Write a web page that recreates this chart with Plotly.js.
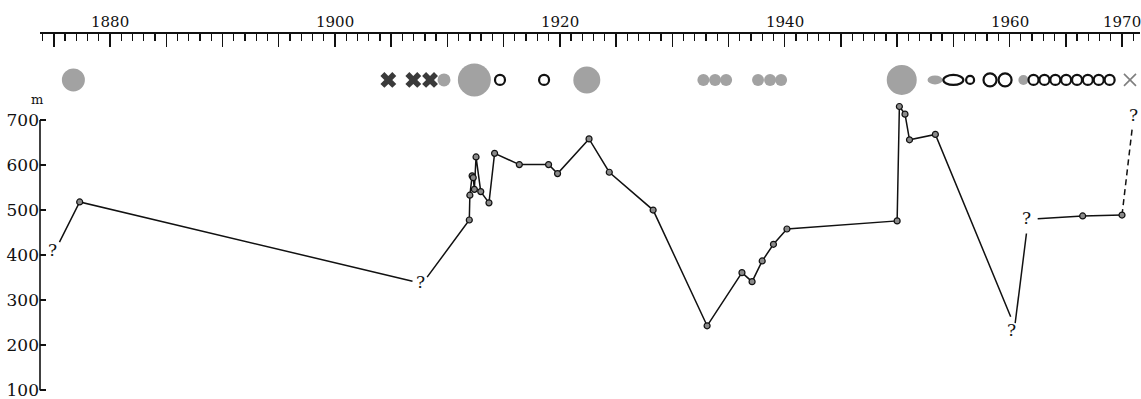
<!DOCTYPE html>
<html>
<head>
<meta charset="utf-8">
<script src="https://cdn.plot.ly/plotly-3.0.1.min.js"></script>
<style>html,body{margin:0;padding:0;background:#fff;}#chart{width:1141px;height:399px;}</style>
</head>
<body>
<div id="chart"></div>
<script>
// ---- data (years, elevation in m) ----
const segAYears = [1875.5, 1877.3, 1906.9];
const segAVals  = [429, 518, 342];
const segBYears = [1908.2, 1911.95, 1912.0, 1912.2, 1912.3, 1912.4, 1912.55, 1912.97, 1913.7, 1914.2, 1916.4, 1919.0, 1919.8, 1922.6, 1924.4, 1928.3, 1933.1, 1936.2, 1937.1, 1938.0, 1939.0, 1940.2, 1950.0, 1950.2, 1950.7, 1951.1, 1953.4, 1960.1];
const segBVals  = [351, 478, 533, 576, 572, 546, 618, 541, 516, 626, 601, 601, 581, 658, 584, 500, 243, 361, 341, 387, 424, 458, 476, 730, 713, 656, 668, 263];
const segCYears = [1960.5, 1961.5];
const segCVals  = [249, 448];
const segDYears = [1962.5, 1966.5, 1970.0];
const segDVals  = [481, 487, 489];
const segEYears = [1970.0, 1970.9];
const segEVals  = [489, 680];

const queryYears = [1874.9, 1907.6, 1960.2, 1961.5, 1971.0];
const queryVals  = [411, 340, 233, 482, 711];

// eruption symbols row
const eventYears = [1876.74, 1904.75, 1906.97, 1908.46, 1909.70, 1912.40, 1914.68, 1918.60, 1922.40,
  1932.77, 1933.81, 1934.79, 1937.63, 1938.70, 1939.68, 1950.41, 1953.37, 1955.0, 1956.49, 1958.26, 1959.60,
  1961.23, 1962.13, 1963.10, 1964.07, 1965.03, 1966.0, 1966.96, 1967.93, 1968.9, 1970.71];
const eventKinds = ['grey','X','X','X','grey','grey','open','open','grey',
  'grey','grey','grey','grey','grey','grey','grey','grey','open','open','open','open',
  'grey','open','open','open','open','open','open','open','open','x'];
const eventW = [23,0,0,0,13,33,10,10,27, 12,12,12,12,12,12, 30,15,20,8,13,13, 10,10,10,10,10,10,10,10,10,0];
const eventH = [23,0,0,0,13,33,10,10,27, 12,12,12,12,12,12, 30,9,10,8,13,13, 10,10,10,10,10,10,10,10,10,0];

const yTicks = [100, 200, 300, 400, 500, 600, 700];
const xLabelYears = [1880, 1900, 1920, 1940, 1960, 1970];

// ---- build ----
const SYMROW = 789;
const serif = 'DejaVu Serif';
const lineStyle = {color: '#111', width: 1.5};
function lineTrace(x, y, dash) {
  return {x: x, y: y, type: 'scatter', mode: 'lines', line: Object.assign({}, lineStyle, dash ? {dash: '6px,4px'} : {}), hoverinfo: 'skip', showlegend: false};
}
const traces = [
  lineTrace(segAYears, segAVals), lineTrace(segBYears, segBVals), lineTrace(segCYears, segCVals),
  lineTrace(segDYears, segDVals), lineTrace(segEYears, segEVals, true)
];
const mx = [].concat(segAYears.slice(1, -1), segBYears.slice(1, -1), segDYears.slice(1));
const my = [].concat(segAVals.slice(1, -1), segBVals.slice(1, -1), segDVals.slice(1));
traces.push({x: mx, y: my, type: 'scatter', mode: 'markers',
  marker: {size: 6, color: '#8a8a8a', line: {color: '#111', width: 1.2}}, showlegend: false, hoverinfo: 'skip'});

// X marks
const bigX = [], thinX = [];
eventYears.forEach((yr, i) => { if (eventKinds[i] === 'X') bigX.push(yr); if (eventKinds[i] === 'x') thinX.push(yr); });
traces.push({x: bigX, y: bigX.map(() => SYMROW), type: 'scatter', mode: 'markers',
  marker: {symbol: 'x', size: 14, color: '#3a3a3a', line: {width: 0}}, showlegend: false, hoverinfo: 'skip'});
traces.push({x: thinX, y: thinX.map(() => SYMROW), type: 'scatter', mode: 'markers',
  marker: {symbol: 'x-thin-open', size: 12, line: {color: '#222', width: 1.6}}, showlegend: false, hoverinfo: 'skip'});

const shapes = [];
eventYears.forEach((yr, i) => {
  const k = eventKinds[i];
  if (k !== 'grey' && k !== 'open') return;
  const w = eventW[i], h = eventH[i];
  shapes.push({type: 'circle', xref: 'x', yref: 'y', xsizemode: 'pixel', ysizemode: 'pixel',
    xanchor: yr, yanchor: SYMROW, x0: -w / 2, x1: w / 2, y0: -h / 2, y1: h / 2,
    fillcolor: k === 'grey' ? '#a2a2a2' : 'rgba(0,0,0,0)',
    line: k === 'grey' ? {width: 0} : {color: '#111', width: 2.2}, layer: 'above'});
});
// left vertical axis line
shapes.push({type: 'line', xref: 'paper', yref: 'y', x0: 0, x1: 0, y0: yTicks[0], y1: yTicks[yTicks.length - 1],
  line: {color: '#111', width: 1.6}});

const annotations = queryYears.map((yr, i) => ({x: yr, y: queryVals[i], xref: 'x', yref: 'y', text: '?', showarrow: false,
  font: {family: serif, size: 17, color: '#111'}}));
annotations.push({xref: 'paper', yref: 'y', x: 0, xanchor: 'center', xshift: -3, y: 745, text: 'm', showarrow: false,
  font: {family: serif, size: 13, color: '#111'}});
// top axis year labels
xLabelYears.forEach(v => annotations.push({x: v, xref: 'x', y: 1, yref: 'paper', yanchor: 'bottom', yshift: 1,
  text: String(v), showarrow: false, font: {family: serif, size: 15, color: '#111'}}));

const majorVals = [];
for (let y = 1875; y <= 1970; y += 5) majorVals.push(y);

const layout = {
  width: 1141, height: 399,
  margin: {l: 40, r: 1, t: 34, b: 7},
  paper_bgcolor: '#fff', plot_bgcolor: '#fff',
  xaxis: {side: 'top', range: [1873.77, 1971.6], showgrid: false, zeroline: false,
    showline: true, linecolor: '#111', linewidth: 1.6,
    tickmode: 'array', tickvals: majorVals, showticklabels: false,
    ticks: 'inside', ticklen: 13, tickwidth: 1.5, tickcolor: '#111',
    minor: {tickmode: 'linear', tick0: 1874, dtick: 1, ticks: 'inside', ticklen: 7, tickwidth: 1.3, tickcolor: '#111', showgrid: false}},
  yaxis: {range: [96, 891], showgrid: false, zeroline: false, showline: false,
    tickmode: 'array', tickvals: yTicks, ticks: 'inside', ticklen: 6, tickwidth: 1.5, tickcolor: '#111',
    ticklabeloverflow: 'allow',
    tickfont: {family: serif, size: 17, color: '#111'}},
  shapes: shapes,
  annotations: annotations,
  showlegend: false
};
Plotly.newPlot('chart', traces, layout, {staticPlot: true, displayModeBar: false});
</script>
</body>
</html>
